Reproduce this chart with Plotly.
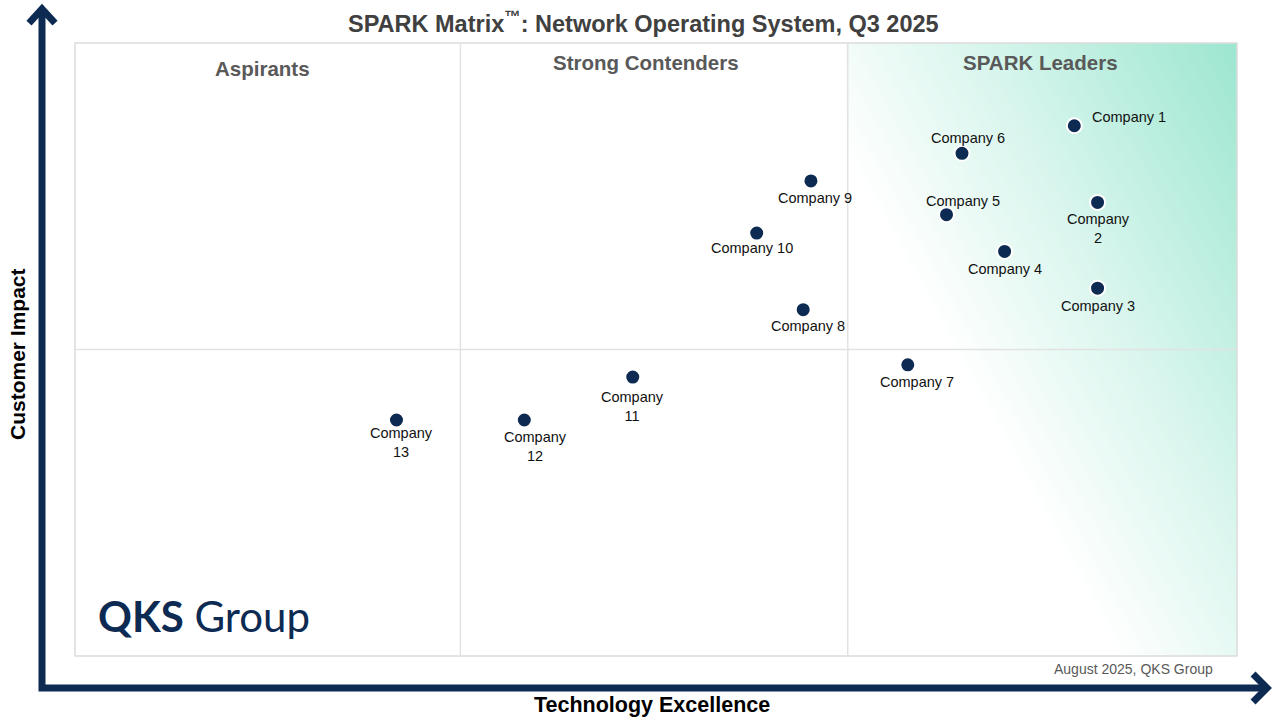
import numpy as np
import plotly.graph_objects as go

# vendor positions (x: technology excellence, y: customer impact)
companies = ["Company 1", "Company 2", "Company 3", "Company 4", "Company 5", "Company 6",
             "Company 7", "Company 8", "Company 9", "Company 10", "Company 11", "Company 12",
             "Company 13"]
technology_excellence = [2.58, 2.64, 2.64, 2.40, 2.25, 2.29, 2.15, 1.88, 1.90, 1.76, 1.44, 1.16, 0.83]
customer_impact = [1.73, 1.48, 1.20, 1.32, 1.44, 1.64, 0.95, 1.13, 1.55, 1.38, 0.91, 0.77, 0.77]
quadrants = ["Aspirants", "Strong Contenders", "SPARK Leaders"]

W, H = 1280, 720
L, R, T, B = 75, 43, 43, 64
NAVY = "#0c2a52"
FONT = "Liberation Sans, Arial, sans-serif"

# label offsets in pixels (dx, dy, wrap onto two lines)
label_pos = {
    "Company 1": (55, 9, False),
    "Company 2": (1, -26, True),
    "Company 3": (0, -18, False),
    "Company 4": (0, -18, False),
    "Company 5": (16, 14, False),
    "Company 6": (6, 15, False),
    "Company 7": (9, -17, False),
    "Company 8": (5, -16, False),
    "Company 9": (4, -17, False),
    "Company 10": (-5, -15, False),
    "Company 11": (0, -29, True),
    "Company 12": (11, -26, True),
    "Company 13": (5, -22, True),
}


def paper(px, py):
    return (px - L) / (W - L - R), (H - B - py) / (H - T - B)


def path(points):
    s = ""
    for i, (px, py) in enumerate(points):
        x, y = paper(px, py)
        s += ("M" if i == 0 else "L") + f"{x:.4f},{y:.4f} "
    return s.strip()


fig = go.Figure()

# leaders quadrant background gradient (decoration only)
gx = np.linspace(2, 3, 61)
gy = np.linspace(0, 2, 121)
u, v = np.meshgrid(gx - 2, gy / 2)
t = u / 0.69 + v / 0.8
gz = np.clip((t - 1) / 1.7, 0, 1)
fig.add_trace(go.Heatmap(x=gx, y=gy, z=gz, zsmooth="best", showscale=False, hoverinfo="skip",
                         zmin=0, zmax=1,
                         colorscale=[[0, "#ffffff"], [0.45, "#d6f5ec"], [1, "#9ce6d0"]]))

fig.add_trace(go.Scatter(
    x=technology_excellence, y=customer_impact, mode="markers", text=companies,
    marker=dict(size=15, color=NAVY, line=dict(color="white", width=2)),
    hovertemplate="%{text}<extra></extra>"))

for name, xv, yv in zip(companies, technology_excellence, customer_impact):
    dx, dy, wrap = label_pos[name]
    txt = name.replace(" ", "<br>") if wrap else name
    fig.add_annotation(x=xv, y=yv, text=txt, showarrow=False, xshift=dx, yshift=dy,
                       font=dict(family=FONT, size=14.5, color="#111111"))

shapes = []
# plot box and quadrant dividers
shapes.append(dict(type="rect", xref="paper", yref="paper", x0=0, x1=1, y0=0, y1=1,
                   line=dict(color="#dcdcdc", width=1.5), layer="above"))
for xv in [0.995, 1.995]:
    shapes.append(dict(type="line", x0=xv, x1=xv, y0=0, y1=2,
                       line=dict(color="#e2e2e2", width=1.5), layer="above"))
shapes.append(dict(type="line", x0=0, x1=3, y0=1, y1=1,
                   line=dict(color="#e2e2e2", width=1.5), layer="above"))

# big axis arrows
shapes.append(dict(type="path", xref="paper", yref="paper",
                   path=path([(42, 9), (42, 688), (1268, 688)]),
                   line=dict(color=NAVY, width=7)))
shapes.append(dict(type="path", xref="paper", yref="paper",
                   path=path([(29, 23), (42, 9), (55, 23)]),
                   line=dict(color=NAVY, width=7)))
shapes.append(dict(type="path", xref="paper", yref="paper",
                   path=path([(1253, 674), (1267, 688), (1253, 702)]),
                   line=dict(color=NAVY, width=7)))

annotations = []


def text_at(px, py, text, size, color, bold=False, angle=0, family=FONT):
    x, y = paper(px, py)
    annotations.append(dict(x=x, y=y, xref="paper", yref="paper", text=f"<b>{text}</b>" if bold else text,
                            showarrow=False, textangle=angle, xanchor="center", yanchor="middle",
                            font=dict(family=family, size=size, color=color)))


text_at(643, 22, "SPARK Matrix<sup>™</sup>: Network Operating System, Q3 2025", 23.5, "#404040", bold=True)
for q, (px, py) in zip(quadrants, [(262, 68), (646, 62), (1040, 62)]):
    text_at(px, py, q, 20.5, "#595959", bold=True)
text_at(17, 354, "Customer Impact", 21, "#000000", bold=True, angle=-90)
text_at(652, 705, "Technology Excellence", 21.5, "#000000", bold=True)
text_at(1133, 669, "August 2025, QKS Group", 14, "#595959")
text_at(204, 616, "<b>QKS</b> Group", 42, NAVY, family="Lato, Noto Sans, sans-serif")

fig.update_layout(
    width=W, height=H, margin=dict(l=L, r=R, t=T, b=B),
    paper_bgcolor="white", plot_bgcolor="white", showlegend=False,
    xaxis=dict(range=[0, 3], visible=False, fixedrange=True),
    yaxis=dict(range=[0, 2], visible=False, fixedrange=True),
    shapes=shapes, annotations=list(fig.layout.annotations) + annotations,
)

# drop the page's default body margin so the figure sits at the window's corner
fig.write_html("out.html", config={"displayModeBar": False},
               post_script="document.body.style.margin='0';document.body.style.overflow='hidden';")
